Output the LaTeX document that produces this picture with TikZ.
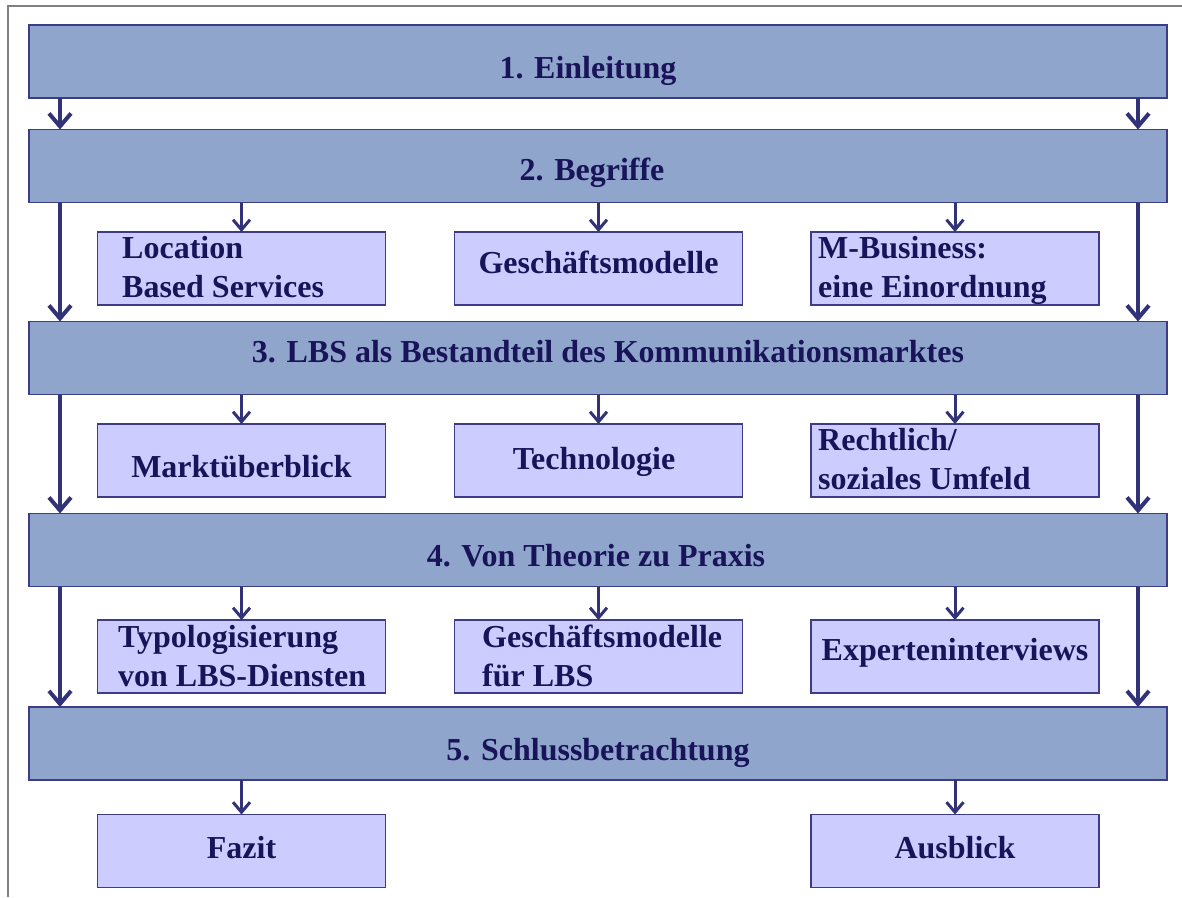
\documentclass[tikz,border=0pt]{standalone}
\usepackage{fontspec}
\setmainfont{Liberation Serif}
\usetikzlibrary{arrows.meta}
\definecolor{barfill}{RGB}{143,165,204}
\definecolor{boxfill}{RGB}{204,204,255}
\definecolor{edgec}{RGB}{60,60,135}
\definecolor{arrc}{RGB}{50,50,120}
\definecolor{ink}{RGB}{25,20,90}
\definecolor{framec}{RGB}{128,128,128}
\begin{document}
\begin{tikzpicture}[x=1pt,y=-1pt,
 bar/.style={draw=edgec, line width=1.5pt, fill=barfill, minimum width=1138pt, minimum height=73pt, inner sep=0pt, outer sep=0pt},
 sub/.style={draw=edgec, line width=1.5pt, fill=boxfill, minimum width=288pt, minimum height=73pt, inner sep=0pt, outer sep=0pt},
 txt/.style={font=\fontsize{32}{38}\selectfont\bfseries, text=ink, inner sep=0pt, anchor=base},
 txtl/.style={txt, anchor=base west},
 bigarrow/.style={draw=arrc, line width=4pt, -{Straight Barb[length=13pt,width=22pt]}},
 smallarrow/.style={draw=arrc, line width=3pt, -{Straight Barb[length=10pt,width=17pt]}},
]
\useasboundingbox (0,0) rectangle (1182,897);
\draw[framec, line width=2pt] (8,897) -- (8,6) -- (1182,6);

\coordinate (L) at (60,0);
\coordinate (R) at (1138,0);

% bars
\node[bar] (b1) at (598,61.5) {};
\node[bar] (b2) at (598,166) {};
\node[bar] (b3) at (598,358) {};
\node[bar] (b4) at (598,550) {};
\node[bar] (b5) at (598,743.5) {};
\node[txt] (t1) at (588,78) {1. Einleitung};
\node[txt] (t2) at (592,180) {2. Begriffe};
\node[txt] (t3) at (608,362) {3. LBS als Bestandteil des Kommunikationsmarktes};
\node[txt] (t4) at (596,566) {4. Von Theorie zu Praxis};
\node[txt] (t5) at (598,760) {5. Schlussbetrachtung};

% sub boxes
\node[sub] (s11) at (241.5,268.5) {};
\node[sub] (s12) at (598.5,268.5) {};
\node[sub] (s13) at (955,268.5) {};
\node[sub] (s21) at (241.5,460.5) {};
\node[sub] (s22) at (598.5,460.5) {};
\node[sub] (s23) at (955,460.5) {};
\node[sub] (s31) at (241.5,656.5) {};
\node[sub] (s32) at (598.5,656.5) {};
\node[sub] (s33) at (955,656.5) {};
\node[sub] (s41) at (241.5,851) {};
\node[sub] (s43) at (955,851) {};

\node[txtl] (u11a) at (122,258) {Location};
\node[txtl] (u11b) at (122,297) {Based Services};
\node[txt] (u12) at (598.5,273) {Geschäftsmodelle};
\node[txtl] (u13a) at (818,258) {M-Business:};
\node[txtl] (u13b) at (818,297) {eine Einordnung};
\node[txt] (u21) at (241.5,477) {Marktüberblick};
\node[txt] (u22) at (594,469) {Technologie};
\node[txtl] (u23a) at (818,450) {Rechtlich/};
\node[txtl] (u23b) at (818,489) {soziales Umfeld};
\node[txtl] (u31a) at (118,647) {Typologisierung};
\node[txtl] (u31b) at (118,686) {von LBS-Diensten};
\node[txtl] (u32a) at (482,647) {Geschäftsmodelle};
\node[txtl] (u32b) at (482,686) {für LBS};
\node[txt] (u33) at (955,660) {Experteninterviews};
\node[txt] (u41) at (241.5,858) {Fazit};
\node[txt] (u43) at (955,858) {Ausblick};

% side arrows
\draw[bigarrow] (b1.south -| L) -- (b2.north -| L);
\draw[bigarrow] (b1.south -| R) -- (b2.north -| R);
\draw[bigarrow] (b2.south -| L) -- (b3.north -| L);
\draw[bigarrow] (b2.south -| R) -- (b3.north -| R);
\draw[bigarrow] (b3.south -| L) -- (b4.north -| L);
\draw[bigarrow] (b3.south -| R) -- (b4.north -| R);
\draw[bigarrow] (b4.south -| L) -- (b5.north -| L);
\draw[bigarrow] (b4.south -| R) -- (b5.north -| R);

% small arrows
\draw[smallarrow] (b2.south -| s11.north) -- (s11.north);
\draw[smallarrow] (b2.south -| s12.north) -- (s12.north);
\draw[smallarrow] (b2.south -| s13.north) -- (s13.north);
\draw[smallarrow] (b3.south -| s21.north) -- (s21.north);
\draw[smallarrow] (b3.south -| s22.north) -- (s22.north);
\draw[smallarrow] (b3.south -| s23.north) -- (s23.north);
\draw[smallarrow] (b4.south -| s31.north) -- (s31.north);
\draw[smallarrow] (b4.south -| s32.north) -- (s32.north);
\draw[smallarrow] (b4.south -| s33.north) -- (s33.north);
\draw[smallarrow] (b5.south -| s41.north) -- (s41.north);
\draw[smallarrow] (b5.south -| s43.north) -- (s43.north);
\end{tikzpicture}
\end{document}
